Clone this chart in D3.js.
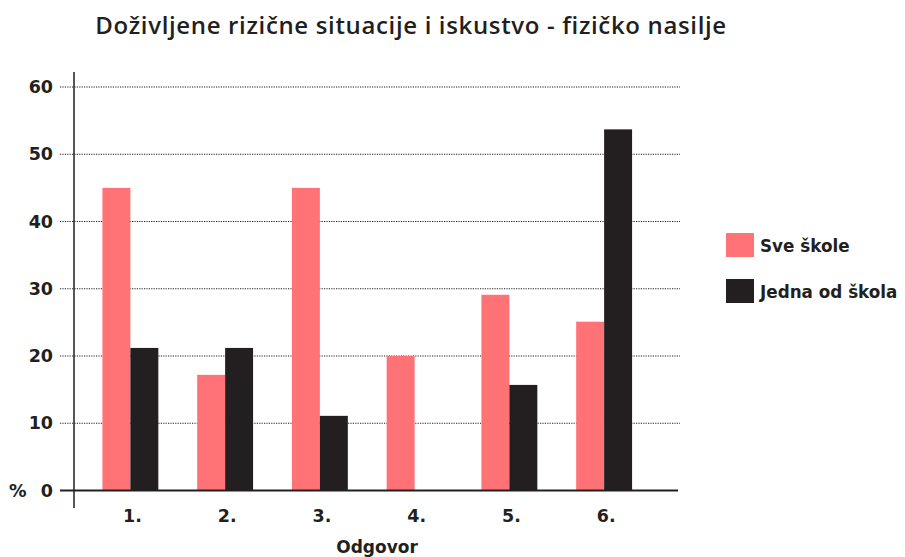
<!DOCTYPE html>
<html>
<head>
<meta charset="utf-8">
<script src="https://cdn.jsdelivr.net/npm/d3@7"></script>
<style>
  body { margin: 0; background: #fff; }
  svg text { fill: #231f20; }
</style>
</head>
<body>
<div id="chart"></div>
<script>
// answers on the x axis
categories = ["1.", "2.", "3.", "4.", "5.", "6."]
seriesNames = ["Sve škole", "Jedna od škola"]
sveSkole = [45, 17.2, 45, 20, 29.1, 25.1]
jednaOdSkola = [21.2, 21.2, 11.1, 0, 15.7, 53.7]
yTicks = [0, 10, 20, 30, 40, 50, 60]
colors = ["#ff7276", "#231f20"]

width = 905
height = 557
labelFont = "DejaVu Sans"

const svg = d3.select("#chart").append("svg")
    .attr("width", width)
    .attr("height", height)

const x = d3.scaleBand()
    .domain(categories)
    .range([83, 651.5])
    .paddingInner(0.41)
    .paddingOuter(0.205)

const sub = d3.scaleBand()
    .domain(seriesNames)
    .range([0, x.bandwidth()])

const y = d3.scaleLinear()
    .domain([0, 60])
    .range([490.5, 87])

// dotted grid lines
svg.append("g")
    .selectAll("line")
    .data(yTicks.slice(1))
    .join("line")
    .attr("x1", 60)
    .attr("x2", 680)
    .attr("y1", d => y(d))
    .attr("y2", d => y(d))
    .attr("stroke", "#231f20")
    .attr("stroke-width", 1.2)
    .attr("stroke-dasharray", "1.2,1.2")

// bars
const rows = categories.map((c, i) => ({ cat: c, vals: [sveSkole[i], jednaOdSkola[i]] }))

svg.append("g")
    .selectAll("g")
    .data(rows)
    .join("g")
    .attr("transform", d => "translate(" + x(d.cat) + ",0)")
    .selectAll("rect")
    .data(d => d.vals.map((v, j) => ({ name: seriesNames[j], v: v, j: j })))
    .join("rect")
    .attr("x", d => sub(d.name))
    .attr("y", d => y(d.v))
    .attr("width", sub.bandwidth())
    .attr("height", d => y(0) - y(d.v))
    .attr("fill", d => colors[d.j])

// baseline
svg.append("line")
    .attr("x1", 60)
    .attr("x2", 678)
    .attr("y1", y(0))
    .attr("y2", y(0))
    .attr("stroke", "#231f20")
    .attr("stroke-width", 2)

// y axis line
svg.append("line")
    .attr("x1", 74)
    .attr("x2", 74)
    .attr("y1", 72)
    .attr("y2", 508)
    .attr("stroke", "#231f20")
    .attr("stroke-width", 1.5)

// y tick labels
svg.append("g")
    .selectAll("text")
    .data(yTicks)
    .join("text")
    .attr("x", 53)
    .attr("y", d => y(d) + 6)
    .attr("text-anchor", "end")
    .style("font-family", labelFont)
    .style("font-weight", "bold")
    .style("font-size", "17.5px")
    .text(d => d)

svg.append("text")
    .attr("x", 9)
    .attr("y", y(0) + 6)
    .style("font-family", labelFont)
    .style("font-weight", "bold")
    .style("font-size", "17.5px")
    .text("%")

// x tick labels
svg.append("g")
    .selectAll("text")
    .data(categories)
    .join("text")
    .attr("x", d => x(d) + x.bandwidth() / 2 + 2)
    .attr("y", 522)
    .attr("text-anchor", "middle")
    .style("font-family", labelFont)
    .style("font-weight", "bold")
    .style("font-size", "17.5px")
    .text(d => d)

svg.append("text")
    .attr("x", 377)
    .attr("y", 553)
    .attr("text-anchor", "middle")
    .style("font-family", labelFont)
    .style("font-weight", "bold")
    .style("font-size", "17px")
    .text("Odgovor")

// title
svg.append("text")
    .attr("x", 411)
    .attr("y", 34)
    .attr("text-anchor", "middle")
    .style("font-family", "Open Sans")
    .style("font-weight", 600)
    .style("font-size", "24px")
    .style("letter-spacing", "0.65px")
    .text("Doživljene rizične situacije i iskustvo - fizičko nasilje")

// legend
const legend = svg.append("g")
    .selectAll("g")
    .data(seriesNames)
    .join("g")
    .attr("transform", (d, i) => "translate(726," + (233 + i * 46) + ")")

legend.append("rect")
    .attr("width", 28)
    .attr("height", 24)
    .attr("fill", (d, i) => colors[i])

legend.append("text")
    .attr("x", 34)
    .attr("y", 19)
    .style("font-family", labelFont)
    .style("font-weight", "bold")
    .style("font-size", "16.8px")
    .text(d => d)
</script>
</body>
</html>
